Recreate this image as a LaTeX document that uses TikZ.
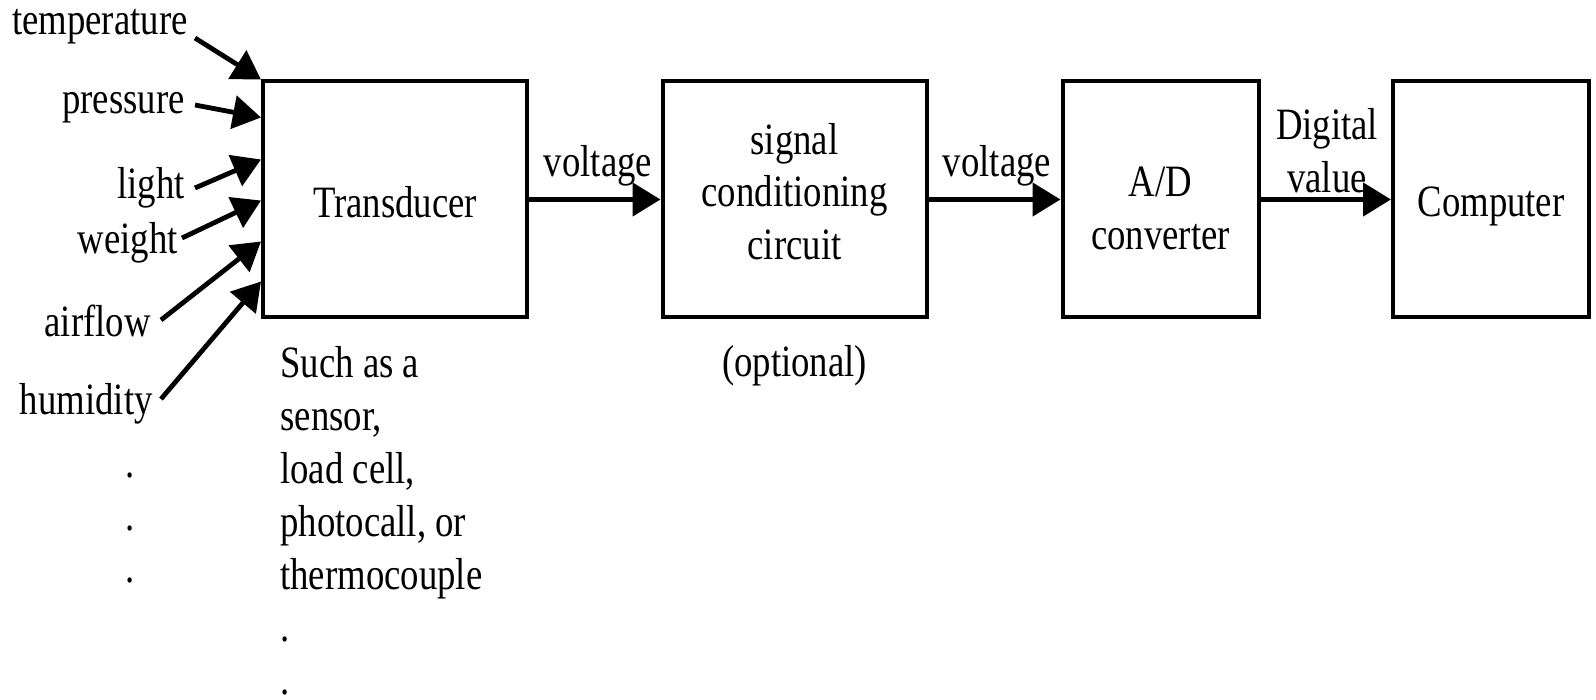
\documentclass[tikz,border=0pt]{standalone}
\usepackage{fontspec}
\setmainfont[FakeStretch=0.82]{Liberation Serif}
\usetikzlibrary{arrows.meta}

\begin{document}
\begin{tikzpicture}[x=0.5pt,y=0.5pt,yscale=-1,xscale=1,
  font=\fontsize{22.4}{26.4}\selectfont,
  blockbox/.style={draw, line width=2pt, minimum height=118pt, inner sep=0pt},
  flow/.style={line width=2.4pt, -{Triangle[length=14pt,width=16.5pt]}},
  txt/.style={inner sep=0pt, align=center}]
\useasboundingbox (0,0) rectangle (1596,700);

% Blocks
\node[blockbox, minimum width=132pt] (trans) at (395,199.5) {};
\node[blockbox, minimum width=132pt] (sig) at (794.5,199.5) {};
\node[blockbox, minimum width=98pt] (adc) at (1160.5,199.5) {};
\node[blockbox, minimum width=98pt] (comp) at (1491,199.5) {};

% Block texts (yshift points down here)
\node[txt] (transtxt) at ([yshift=1.35pt]trans.center) {Transducer};
\node[txt] (sigtxt) at ([yshift=-4pt]sig.center) {signal\\conditioning\\circuit};
\node[txt] (adctxt) at ([yshift=4.3pt]adc.center) {A/D\\converter};
\node[txt] (comptxt) at ([yshift=3.35pt]comp.center) {Computer};

% Signal path
\draw[flow] (trans.east) -- (sig.west);
\draw[flow] (sig.east) -- (adc.west);
\draw[flow] (adc.east) -- (comp.west);

% Text Node
\node[txt, anchor=base] (volta) at (598,177) {voltage};
\node[txt, anchor=base] (voltb) at (997,177) {voltage};
\node[txt] (digval) at (1327,150.5) {Digital\\value};

% Quantities
\node[txt, anchor=base east] (temp) at (188,35) {temperature};
\node[txt, anchor=base east] (pres) at (185,114) {pressure};
\node[txt, anchor=base east] (light) at (185,199) {light};
\node[txt, anchor=base east] (weight) at (178,254) {weight};
\node[txt, anchor=base east] (air) at (151,336) {airflow};
\node[txt, anchor=base east] (hum) at (153,415) {humidity};
\node[txt] (moredots) at (130,528) {.\\.\\.};

\coordinate (ttemp) at (195,38);
\coordinate (tpres) at (195,105);
\coordinate (tlight) at (195,188);
\coordinate (tweight) at (182,238);
\coordinate (tair) at (161,320);
\coordinate (thum) at (161,399);

\draw[flow] (ttemp) -- (trans.north west);
\draw[flow] (tpres) -- ([yshift=19pt]trans.north west);
\draw[flow] (tlight) -- ([yshift=40pt]trans.north west);
\draw[flow] (tweight) -- ([yshift=60.5pt]trans.north west);
\draw[flow] (tair) -- ([yshift=81pt]trans.north west);
\draw[flow] (thum) -- ([yshift=101pt]trans.north west);

% Notes
\node[txt, align=left, anchor=north west] (examples) at (280,346.5)
  {Such as a\\sensor,\\load cell,\\photocall, or\\thermocouple\\.\\.};
\node[txt, anchor=base] (opt) at (794.5,376) {(optional)};

\end{tikzpicture}
\end{document}
